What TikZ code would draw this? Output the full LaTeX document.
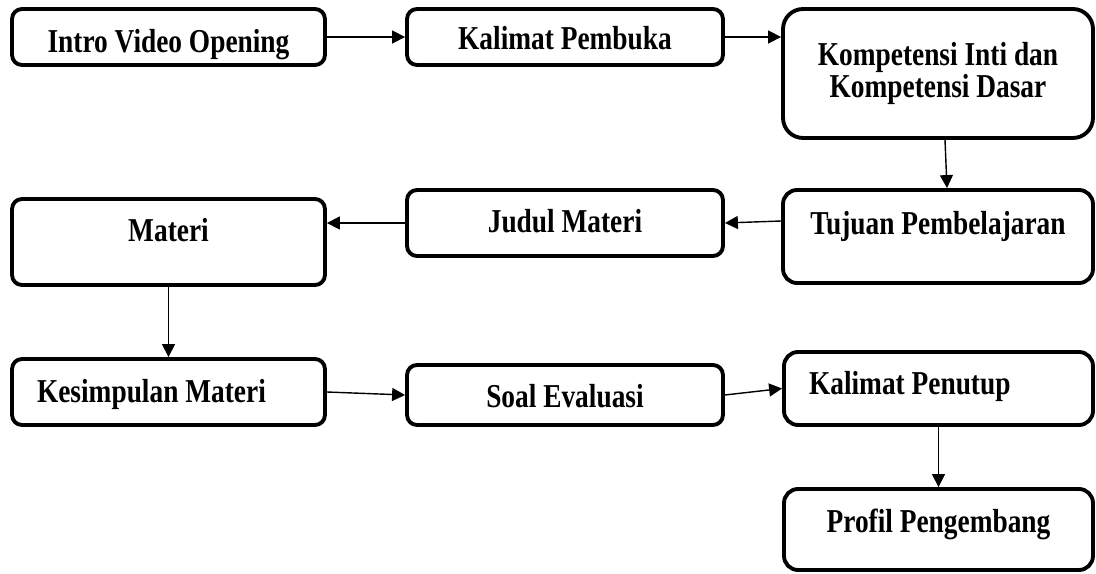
\documentclass[tikz,border=0pt]{standalone}
\usepackage{fontspec}
\setmainfont{Liberation Serif}[FakeStretch=0.82]
\usetikzlibrary{arrows.meta, calc}
\tikzset{
  kotakDasar/.style={
    draw=black, line width=2.2pt, rounded corners=0.2cm,
    inner sep=0pt, align=center,
    font=\fontsize{19}{13.5}\selectfont\bfseries
  },
  kotakBesar/.style={kotakDasar, rounded corners=0.4cm},
  kotakSedang/.style={kotakDasar, rounded corners=0.28cm},
  kotakKiri/.style={align=flush left, inner xsep=0.5cm, text width=#1},
  panah/.style={-{Triangle[length=0.26cm, width=0.26cm]}, line width=0.8pt, black},
}

\begin{document}
\begin{tikzpicture}[x=0.02cm, y=-0.02cm]
  \useasboundingbox (0,0) rectangle (1096,574);

  % baris atas
  \node[kotakDasar, minimum width=6.26cm, minimum height=1.12cm,
        text height=0.64cm, text depth=0pt] (intro) at (168.5,37) {Intro Video Opening};
  \node[kotakDasar, minimum width=6.32cm, minimum height=1.12cm,
        text height=0.52cm, text depth=0pt] (pembuka) at (565,37) {Kalimat Pembuka};
  \node[kotakBesar, minimum width=6.2cm, minimum height=2.58cm] (kompetensi) at (938,73.5)
        {Kompetensi Inti dan\\Kompetensi Dasar};

  % baris tengah
  \node[kotakSedang, minimum width=6.2cm, minimum height=1.86cm,
        text height=0.4cm, text depth=0.46cm] (tujuan) at (938,236.5) {Tujuan Pembelajaran};
  \node[kotakDasar, minimum width=6.32cm, minimum height=1.32cm,
        text height=0.4cm, text depth=0pt] (judul) at (565,223) {Judul Materi};
  \node[kotakDasar, minimum width=6.26cm, minimum height=1.72cm,
        text height=0.4cm, text depth=0.4cm] (materi) at (168.5,242) {Materi};

  % baris bawah
  \node[kotakDasar, kotakKiri=5.26cm, minimum width=6.26cm, minimum height=1.32cm,
        text height=0.44cm, text depth=0pt] (kesimpulan) at (168.5,392) {Kesimpulan Materi};
  \node[kotakDasar, minimum width=6.32cm, minimum height=1.2cm,
        text height=0.52cm, text depth=0pt] (soal) at (565,395) {Soal Evaluasi};
  \node[kotakSedang, kotakKiri=5.18cm, minimum width=6.18cm, minimum height=1.46cm,
        text height=0.4cm, text depth=0.14cm] (penutup) at (938.5,388.5) {Kalimat Penutup};
  \node[kotakSedang, minimum width=6.18cm, minimum height=1.62cm,
        text height=0.4cm, text depth=0.3cm] (profil) at (938.5,529.5) {Profil Pengembang};

  \draw[panah] (intro) -- (pembuka);
  \draw[panah] (pembuka) -- (pembuka -| kompetensi.west);
  \draw[panah] ([xshift=0.14cm]kompetensi.south) -- ([xshift=0.18cm]tujuan.north);
  \draw[panah] ([yshift=0.31cm]tujuan.west) -- (judul.east);
  \draw[panah] (judul.west) -- (judul.west -| materi.east);
  \draw[panah] (materi) -- (kesimpulan);
  \draw[panah] (kesimpulan.east) -- (soal.west);
  \draw[panah] (soal.east) -- (penutup.west);
  \draw[panah] (penutup) -- (profil);
\end{tikzpicture}
\end{document}
